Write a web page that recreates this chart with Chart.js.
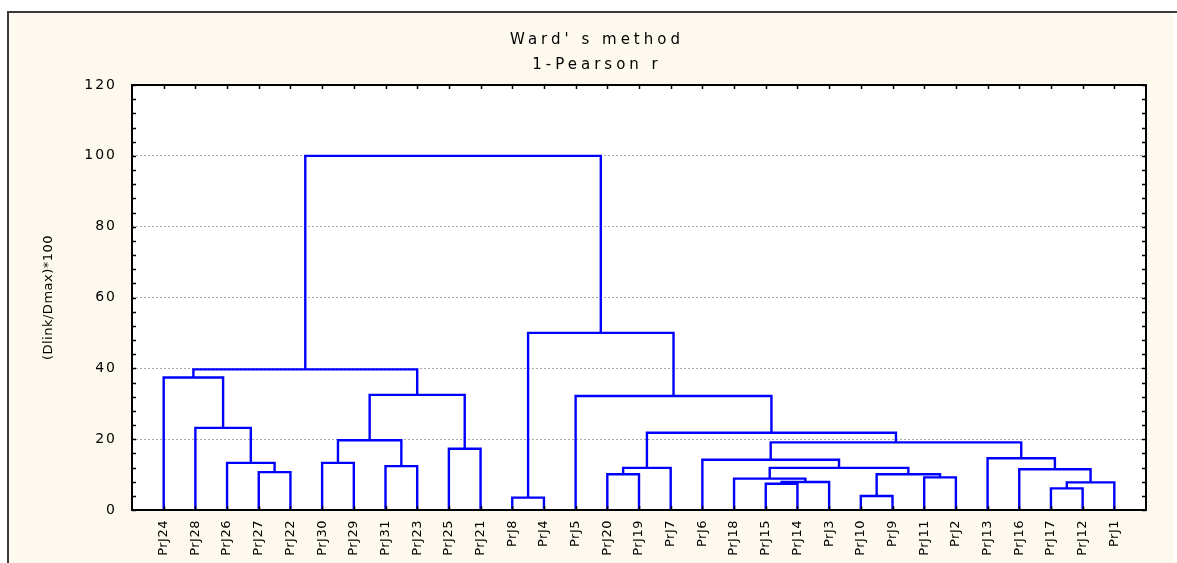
<!DOCTYPE html>
<html>
<head>
<meta charset="utf-8">
<script src="https://cdn.jsdelivr.net/npm/chart.js@4.4.0/dist/chart.umd.min.js"></script>
<style>
  html, body { margin: 0; padding: 0; background: #fff; }
  #frame { position: absolute; left: 7px; top: 13px; width: 1165px; height: 550px;
           background: #fdf9ee; border-left: 2px solid #3a3a3a; }
  #topline { position: absolute; left: 7px; top: 11px; width: 1170px; height: 2px; background: #3a3a3a; }
  #wrap { position: absolute; left: 0; top: 0; width: 1177px; height: 563px; }
</style>
</head>
<body>
<div id="frame"></div>
<div id="topline"></div>
<div id="wrap"><canvas id="dendro" width="1177" height="563"></canvas></div>
<script>
// leaf order along the x axis
const leaves = ['PrJ24', 'PrJ28', 'PrJ26', 'PrJ27', 'PrJ22', 'PrJ30', 'PrJ29', 'PrJ31',
  'PrJ23', 'PrJ25', 'PrJ21', 'PrJ8', 'PrJ4', 'PrJ5', 'PrJ20', 'PrJ19', 'PrJ7', 'PrJ6',
  'PrJ18', 'PrJ15', 'PrJ14', 'PrJ3', 'PrJ10', 'PrJ9', 'PrJ11', 'PrJ2', 'PrJ13', 'PrJ16',
  'PrJ17', 'PrJ12', 'PrJ1'];

// merges: a name is a leaf, a number points to an earlier merge
const mergeLeft  = ['PrJ27', 'PrJ26', 'PrJ28', 'PrJ24', 'PrJ30', 'PrJ31', 4, 'PrJ25', 6, 3,
  'PrJ8', 'PrJ20', 11, 'PrJ15', 13, 'PrJ18', 'PrJ10', 'PrJ11', 16, 15,
  'PrJ6', 'PrJ17', 21, 'PrJ16', 'PrJ13', 20, 12, 'PrJ5', 10, 9];
const mergeRight = ['PrJ22', 0, 1, 2, 'PrJ29', 'PrJ23', 5, 'PrJ21', 7, 8,
  'PrJ4', 'PrJ19', 'PrJ7', 'PrJ14', 'PrJ3', 14, 'PrJ9', 'PrJ2', 17, 18,
  19, 'PrJ12', 'PrJ1', 22, 23, 24, 25, 26, 27, 28];
const mergeHeight = [10.7, 13.3, 23.2, 37.4, 13.3, 12.4, 19.7, 17.3, 32.5, 39.7,
  3.5, 10.1, 11.9, 7.4, 7.9, 8.85, 3.95, 9.2, 10.1, 11.9,
  14.2, 6.1, 7.8, 11.5, 14.6, 19.1, 21.8, 32.2, 50, 100];

const yMax = 120;
const yStep = 20;

const pos = {};
const hgt = {};
leaves.forEach((n, i) => { pos[n] = i; hgt[n] = 0; });

const datasets = mergeHeight.map((h, k) => {
  const a = mergeLeft[k], b = mergeRight[k];
  const xa = pos[a], xb = pos[b];
  pos[k] = (xa + xb) / 2;
  hgt[k] = h;
  return {
    data: [{x: xa, y: hgt[a]}, {x: xa, y: h}, {x: xb, y: h}, {x: xb, y: hgt[b]}],
    borderColor: '#0000ff',
    borderWidth: 2.4,
    pointRadius: 0,
    fill: false,
    tension: 0
  };
});

// white plot area, black frame and small inward ticks like the original
const plotFrame = {
  id: 'plotFrame',
  beforeDraw(chart) {
    const {ctx, chartArea: a} = chart;
    ctx.save();
    ctx.fillStyle = '#fff';
    ctx.fillRect(a.left, a.top, a.right - a.left, a.bottom - a.top);
    ctx.restore();
  },
  afterDatasetsDraw(chart) {
    const {ctx, chartArea: a, scales} = chart;
    ctx.save();
    ctx.strokeStyle = '#000';
    ctx.lineWidth = 1.5;
    ctx.beginPath();
    for (let v = 0; v <= yMax; v += 4) {
      const y = Math.round(scales.y.getPixelForValue(v)) + 0.5;
      ctx.moveTo(a.left, y); ctx.lineTo(a.left + 4, y);
      ctx.moveTo(a.right, y); ctx.lineTo(a.right - 4, y);
    }
    leaves.forEach((n, i) => {
      const x = Math.round(scales.x.getPixelForValue(i)) + 0.5;
      ctx.moveTo(x, a.top); ctx.lineTo(x, a.top + 4);
      ctx.moveTo(x, a.bottom); ctx.lineTo(x, a.bottom - 4);
    });
    ctx.stroke();
    ctx.lineWidth = 2;
    ctx.strokeRect(a.left, a.top, a.right - a.left, a.bottom - a.top);
    ctx.restore();
  }
};

// the original uses a wide bitmap font; mimic it with letter spacing
const wideText = {
  id: 'wideText',
  beforeDraw(chart) {
    const ctx = chart.ctx;
    const wrap = (obj, fn, sp, dx) => {
      if (!obj || obj['__w' + fn]) return;
      const orig = obj[fn];
      obj[fn] = function (...args) {
        ctx.save();
        ctx.letterSpacing = sp;
        ctx.translate(dx || 0, 0);
        orig.apply(this, args);
        ctx.restore();
      };
      obj['__w' + fn] = true;
    };
    chart.boxes.forEach((b) => {
      if (b.options && typeof b.options.text === 'string') wrap(b, 'draw', '4px', 19);
    });
    wrap(chart.scales.y, 'drawLabels', '2px');
    wrap(chart.scales.y, 'drawTitle', '0.5px');
    wrap(chart.scales.x, 'drawLabels', '0.5px');
  }
};

const font = 'DejaVu Sans';

new Chart(document.getElementById('dendro').getContext('2d'), {
  type: 'line',
  data: { datasets: datasets },
  options: {
    responsive: false,
    animation: false,
    layout: { padding: { left: 10, right: 31, top: 0, bottom: 0 } },
    plugins: {
      legend: { display: false },
      tooltip: { enabled: false },
      title: {
        display: true, text: "Ward' s method", color: '#000',
        font: { family: font, size: 15, weight: 'normal' },
        padding: { top: 31, bottom: 2 }
      },
      subtitle: {
        display: true, text: '1-Pearson r', color: '#000',
        font: { family: font, size: 15, weight: 'normal' },
        padding: { top: 5, bottom: 11 }
      }
    },
    scales: {
      x: {
        type: 'linear', min: -1, max: 31,
        grid: { display: false, drawTicks: false },
        border: { display: false },
        ticks: {
          stepSize: 1, autoSkip: false, maxRotation: 90, minRotation: 90,
          padding: 10, color: '#000',
          font: { family: font, size: 13 },
          callback: (v) => leaves[v] ?? ''
        },
        afterFit: (s) => { s.height = 53; }
      },
      y: {
        min: 0, max: yMax,
        ticks: { stepSize: yStep, padding: 15, color: '#000', font: { family: font, size: 14 } },
        grid: {
          color: (c) => (c.tick.value === 0 || c.tick.value === yMax) ? 'rgba(0,0,0,0)' : '#a8a8a8',
          drawTicks: false, lineWidth: 1
        },
        border: { display: false, dash: [2, 2] },
        title: {
          display: true, text: '(Dlink/Dmax)*100', color: '#000',
          font: { family: font, size: 13 },
          padding: { top: 31, bottom: 0 }
        },
        afterFit: (s) => { s.width = 122; }
      }
    }
  },
  plugins: [plotFrame, wideText]
});
</script>
</body>
</html>
